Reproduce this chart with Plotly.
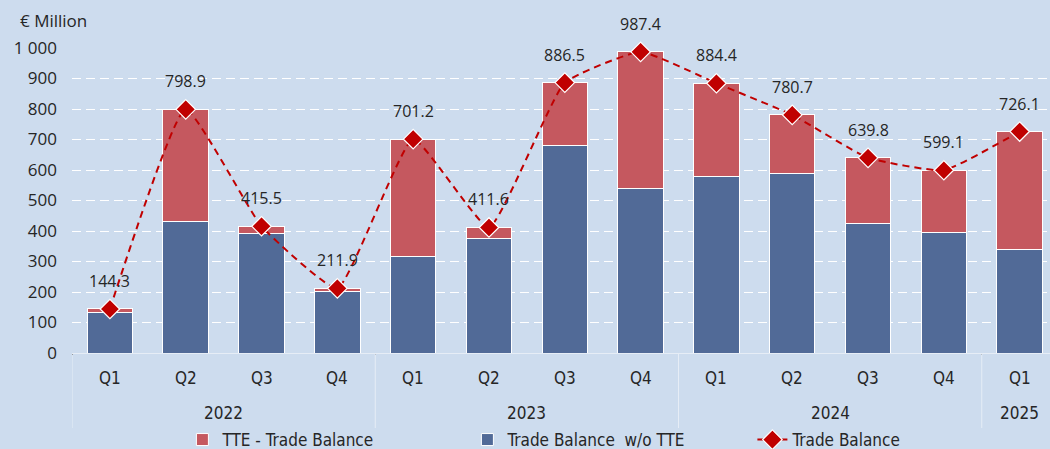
import plotly.graph_objects as go

years = ["2022"] * 4 + ["2023"] * 4 + ["2024"] * 4 + ["2025"]
quarters = ["Q1", "Q2", "Q3", "Q4", "Q1", "Q2", "Q3", "Q4", "Q1", "Q2", "Q3", "Q4", "Q1"]
trade_balance = [144.3, 798.9, 415.5, 211.9, 701.2, 411.6, 886.5, 987.4, 884.4, 780.7, 639.8, 599.1, 726.1]
trade_wo_tte = [133, 431, 392, 201, 316, 377, 679, 538, 580, 589, 425, 395, 338]
tte_balance = [round(t - w, 1) for t, w in zip(trade_balance, trade_wo_tte)]

BG = "#CDDCEE"
RED_BAR = "#C5585F"
BLUE_BAR = "#516A97"
LINE_RED = "#C00000"
TXT = "#262626"
AXIS_LINE = "#E6EDF6"
NUM_FONT = "Open Sans, Noto Sans, sans-serif"
NARROW_FONT = "DejaVu Sans Condensed, Liberation Sans Narrow, Roboto Condensed, Lato, sans-serif"

W, H = 1050, 449
ML, MR, MT, MB = 72, 0, 48, 96
PH = H - MT - MB


def py(px_y):
    # pixel row -> paper y
    return (H - MB - px_y) / PH


x = [years, quarters]

fig = go.Figure()
fig.add_trace(go.Bar(
    x=x, y=trade_wo_tte, name="Trade Balance  w/o TTE",
    marker=dict(color=BLUE_BAR, line=dict(color="white", width=1)),
    legendrank=2,
))
fig.add_trace(go.Bar(
    x=x, y=tte_balance, name="TTE - Trade Balance",
    marker=dict(color=RED_BAR, line=dict(color="white", width=1)),
    legendrank=1,
))
fig.add_trace(go.Scatter(
    x=x, y=trade_balance, name="Trade Balance", mode="lines+markers",
    line=dict(color=LINE_RED, width=2, dash="7px,5px", shape="spline", smoothing=0.4),
    marker=dict(symbol="diamond", size=15, color=LINE_RED, line=dict(color="white", width=1.2)),
    legendrank=3, cliponaxis=False,
))

# data labels
for i, v in enumerate(trade_balance):
    fig.add_annotation(x=i, y=v, xref="x", yref="y", text=f"{v:.1f}", showarrow=False, yshift=28,
                       font=dict(size=16, color=TXT, family=NUM_FONT))

# category axis labels (quarters and years) and group dividers
for i, q in enumerate(quarters):
    fig.add_annotation(x=i, y=py(378), xref="x", yref="paper", text=q, showarrow=False,
                       yanchor="middle", font=dict(size=17, color=TXT, family=NARROW_FONT))

groups = []
for i, yv in enumerate(years):
    if not groups or groups[-1][0] != yv:
        groups.append([yv, i, i])
    else:
        groups[-1][2] = i
for yv, a, b in groups:
    fig.add_annotation(x=(a + b) / 2, y=py(413), xref="x", yref="paper", text=yv, showarrow=False,
                       yanchor="middle", font=dict(size=17, color=TXT, family=NARROW_FONT))
    fig.add_shape(type="line", xref="x", yref="paper", x0=a - 0.5, x1=a - 0.5, y0=0, y1=py(428),
                  line=dict(color=AXIS_LINE, width=1))

fig.add_annotation(xref="paper", yref="paper", x=(18 - ML) / (W - ML - MR), y=py(20),
                   xanchor="left", yanchor="middle", text="€ Million", showarrow=False,
                   font=dict(size=17, color=TXT, family=NUM_FONT))

fig.update_layout(
    width=W, height=H,
    barmode="stack", bargap=0.4,
    paper_bgcolor=BG, plot_bgcolor=BG,
    separators=". ",
    margin=dict(l=ML, r=MR, t=MT, b=MB, autoexpand=False),
    font=dict(family=NUM_FONT, color=TXT, size=16),
    showlegend=True,
    legend=dict(orientation="h", traceorder="normal", x=0.55, xanchor="center",
                y=py(440), yanchor="middle", entrywidth=240,
                font=dict(size=17, color=TXT, family=NARROW_FONT), bgcolor="rgba(0,0,0,0)"),
)
fig.update_yaxes(range=[0, 1000], dtick=100, showgrid=True, gridcolor="white",
                 griddash="9px,5px", gridwidth=1, zeroline=False, showline=False,
                 tickfont=dict(size=17, color=TXT, family=NUM_FONT), ticks="",
                 ticklabelstandoff=14, tickformat=",d", automargin=False)
fig.update_xaxes(type="multicategory", range=[-0.5, 12.4], showline=True, linecolor=AXIS_LINE,
                 linewidth=1, showticklabels=False, showgrid=False, automargin=False)

fig.write_html("out.html", config={"displayModeBar": False},
               post_script="document.body.style.margin='0';document.body.style.overflow='hidden';")
